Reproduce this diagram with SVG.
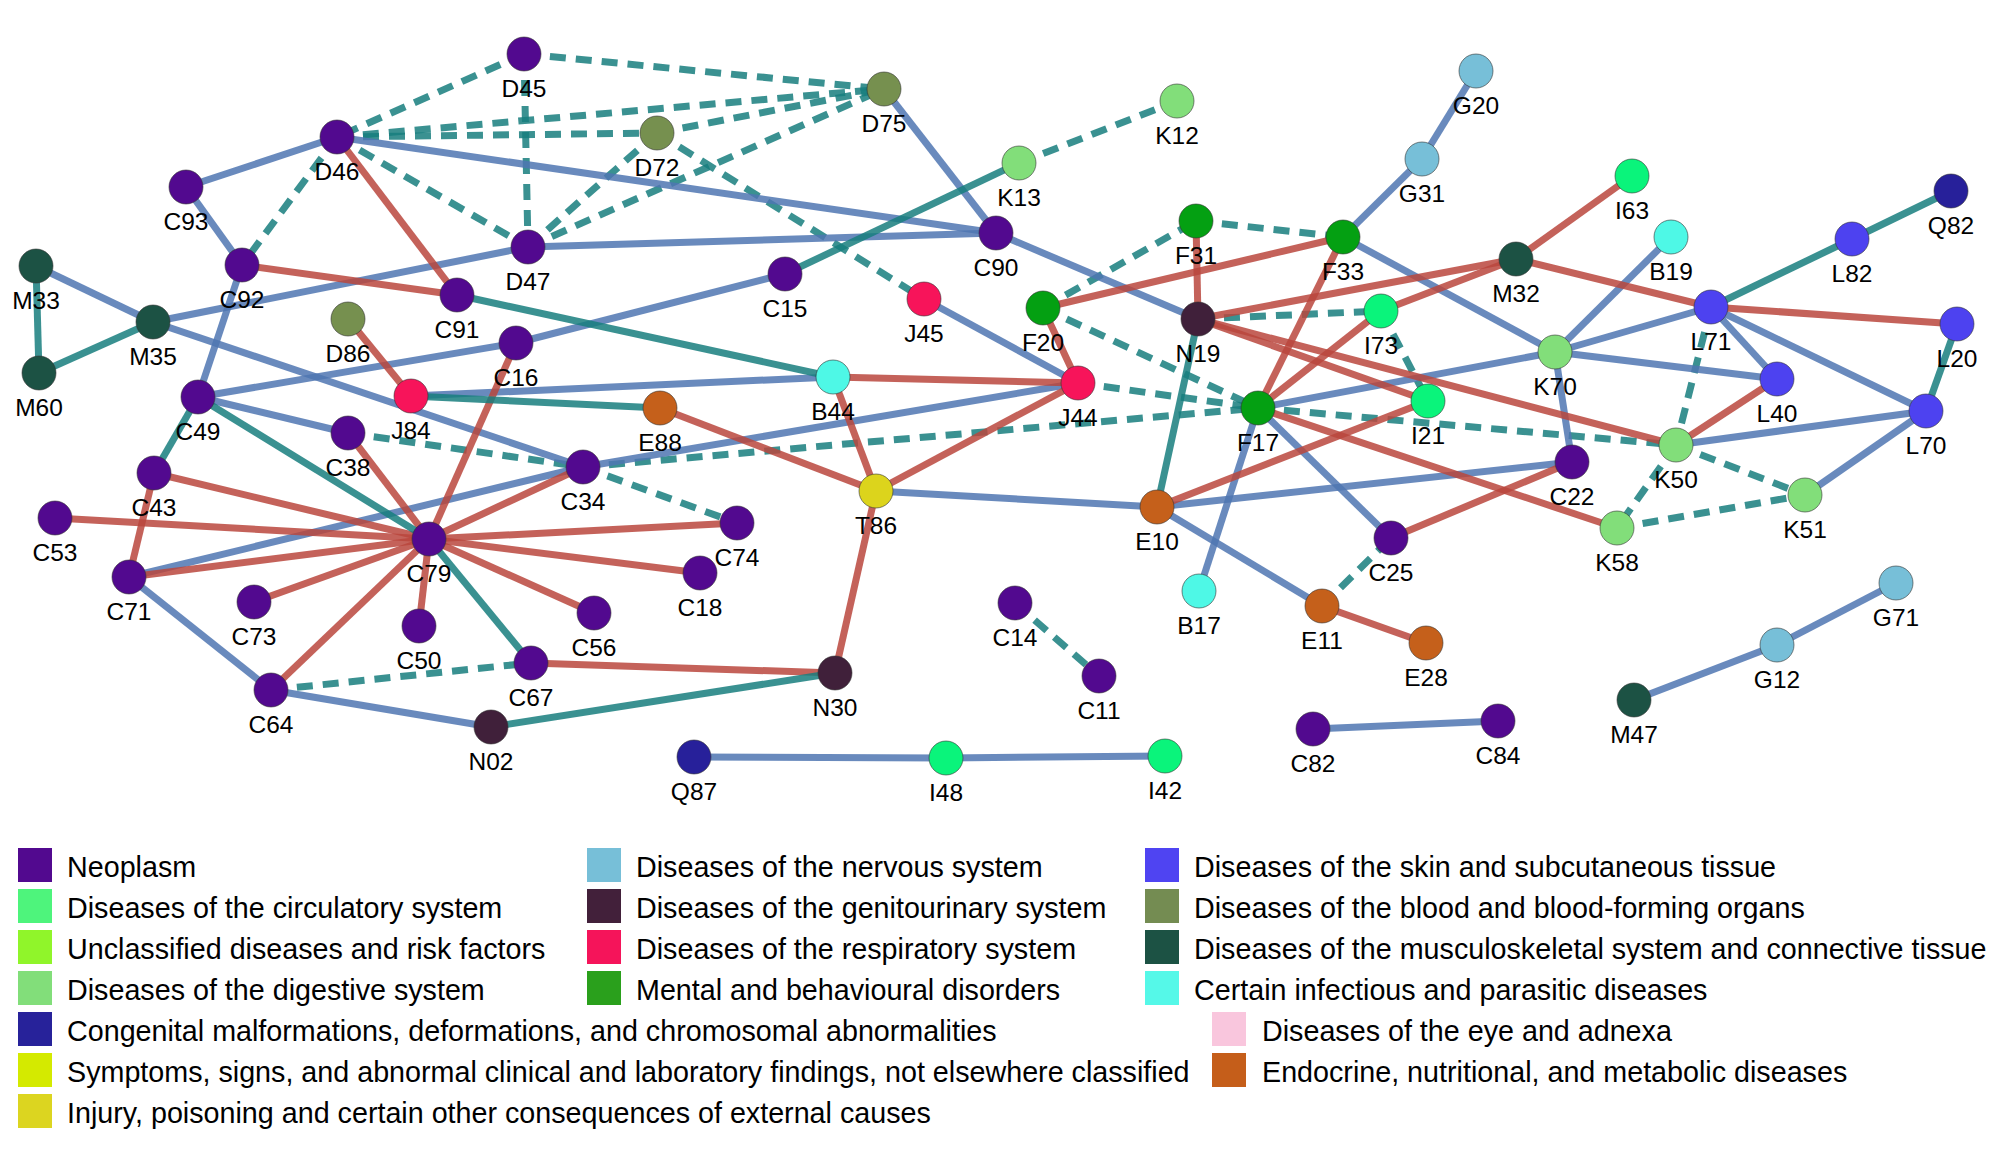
<svg xmlns="http://www.w3.org/2000/svg" width="2000" height="1161" viewBox="0 0 2000 1161">
<style>
.e{stroke-width:7;stroke-opacity:0.85;fill:none}
.b{stroke:#4f76b2}
.r{stroke:#ba473d}
.t{stroke:#187e7e}
.d{stroke:#187e7e;stroke-dasharray:16 10}
circle{stroke:#333;stroke-width:1;stroke-opacity:0.6}
text{font-family:"Liberation Sans",Arial,sans-serif;fill:#000}
.lb{font-size:24.5px;text-anchor:middle}
.lg{font-size:28.7px}
.n{fill:#52098f}.bl{fill:#76904f}.dg{fill:#82de7a}.nv{fill:#77bfd8}.ci{fill:#0af47b}
.cg{fill:#27209a}.mt{fill:#04a012}.inf{fill:#4ef8e6}.sk{fill:#4d42f0}.ms{fill:#1c5244}
.rs{fill:#f7145a}.gu{fill:#40203a}.en{fill:#c5601b}.ij{fill:#dcd41c}
</style>
<rect width="2000" height="1161" fill="#fff"/>
<g id="connectors">
<line class="e d" x1="524" y1="54" x2="884" y2="89"/>
<line class="e d" x1="524" y1="54" x2="337" y2="137"/>
<line class="e d" x1="524" y1="54" x2="528" y2="247"/>
<line class="e d" x1="337" y1="137" x2="657" y2="133"/>
<line class="e d" x1="337" y1="137" x2="884" y2="89"/>
<line class="e d" x1="657" y1="133" x2="884" y2="89"/>
<line class="e d" x1="528" y1="247" x2="884" y2="89"/>
<line class="e d" x1="337" y1="137" x2="528" y2="247"/>
<line class="e d" x1="528" y1="247" x2="657" y2="133"/>
<line class="e d" x1="337" y1="137" x2="242" y2="265"/>
<line class="e d" x1="657" y1="133" x2="924" y2="299"/>
<line class="e d" x1="1019" y1="163" x2="1177" y2="101"/>
<line class="e d" x1="1043" y1="308" x2="1196" y2="221"/>
<line class="e d" x1="1196" y1="221" x2="1343" y2="237"/>
<line class="e d" x1="1043" y1="308" x2="1258" y2="408"/>
<line class="e d" x1="1198" y1="319" x2="1381" y2="311"/>
<line class="e d" x1="1381" y1="311" x2="1428" y2="401"/>
<line class="e d" x1="1078" y1="383" x2="1258" y2="408"/>
<line class="e d" x1="583" y1="467" x2="1258" y2="408"/>
<line class="e d" x1="1258" y1="408" x2="1676" y2="445"/>
<line class="e d" x1="348" y1="433" x2="583" y2="467"/>
<line class="e d" x1="583" y1="467" x2="737" y2="523"/>
<line class="e d" x1="271" y1="690" x2="531" y2="663"/>
<line class="e d" x1="1015" y1="603" x2="1099" y2="676"/>
<line class="e d" x1="1322" y1="606" x2="1391" y2="538"/>
<line class="e d" x1="1711" y1="307" x2="1676" y2="445"/>
<line class="e d" x1="1676" y1="445" x2="1805" y2="495"/>
<line class="e d" x1="1676" y1="445" x2="1617" y2="528"/>
<line class="e d" x1="1617" y1="528" x2="1805" y2="495"/>
<line class="e b" x1="337" y1="137" x2="186" y2="187"/>
<line class="e b" x1="186" y1="187" x2="242" y2="265"/>
<line class="e b" x1="337" y1="137" x2="996" y2="233"/>
<line class="e b" x1="242" y1="265" x2="198" y2="397"/>
<line class="e b" x1="36" y1="266" x2="153" y2="322"/>
<line class="e b" x1="153" y1="322" x2="528" y2="247"/>
<line class="e b" x1="528" y1="247" x2="996" y2="233"/>
<line class="e b" x1="153" y1="322" x2="583" y2="467"/>
<line class="e b" x1="198" y1="397" x2="516" y2="343"/>
<line class="e b" x1="516" y1="343" x2="785" y2="274"/>
<line class="e b" x1="884" y1="89" x2="996" y2="233"/>
<line class="e b" x1="996" y1="233" x2="1198" y2="319"/>
<line class="e b" x1="924" y1="299" x2="1078" y2="383"/>
<line class="e b" x1="411" y1="396" x2="833" y2="377"/>
<line class="e b" x1="198" y1="397" x2="348" y2="433"/>
<line class="e b" x1="129" y1="577" x2="583" y2="467"/>
<line class="e b" x1="583" y1="467" x2="1078" y2="383"/>
<line class="e b" x1="876" y1="491" x2="1157" y2="507"/>
<line class="e b" x1="1157" y1="507" x2="1572" y2="462"/>
<line class="e b" x1="1157" y1="507" x2="1322" y2="606"/>
<line class="e b" x1="1258" y1="408" x2="1391" y2="538"/>
<line class="e b" x1="1258" y1="408" x2="1199" y2="591"/>
<line class="e b" x1="1258" y1="408" x2="1555" y2="352"/>
<line class="e b" x1="1343" y1="237" x2="1422" y2="159"/>
<line class="e b" x1="1422" y1="159" x2="1476" y2="71"/>
<line class="e b" x1="1343" y1="237" x2="1555" y2="352"/>
<line class="e b" x1="1555" y1="352" x2="1671" y2="237"/>
<line class="e b" x1="1555" y1="352" x2="1711" y2="307"/>
<line class="e b" x1="1555" y1="352" x2="1777" y2="379"/>
<line class="e b" x1="1555" y1="352" x2="1572" y2="462"/>
<line class="e b" x1="1711" y1="307" x2="1777" y2="379"/>
<line class="e b" x1="1711" y1="307" x2="1926" y2="411"/>
<line class="e b" x1="1926" y1="411" x2="1676" y2="445"/>
<line class="e b" x1="1926" y1="411" x2="1805" y2="495"/>
<line class="e b" x1="129" y1="577" x2="271" y2="690"/>
<line class="e b" x1="271" y1="690" x2="491" y2="727"/>
<line class="e b" x1="694" y1="757" x2="946" y2="758"/>
<line class="e b" x1="946" y1="758" x2="1165" y2="756"/>
<line class="e b" x1="1313" y1="729" x2="1498" y2="721"/>
<line class="e b" x1="1634" y1="700" x2="1777" y2="645"/>
<line class="e b" x1="1777" y1="645" x2="1896" y2="583"/>
<line class="e r" x1="337" y1="137" x2="457" y2="295"/>
<line class="e r" x1="242" y1="265" x2="457" y2="295"/>
<line class="e r" x1="411" y1="396" x2="348" y2="319"/>
<line class="e r" x1="1043" y1="308" x2="1078" y2="383"/>
<line class="e r" x1="1078" y1="383" x2="833" y2="377"/>
<line class="e r" x1="833" y1="377" x2="876" y2="491"/>
<line class="e r" x1="1078" y1="383" x2="876" y2="491"/>
<line class="e r" x1="660" y1="408" x2="876" y2="491"/>
<line class="e r" x1="876" y1="491" x2="835" y2="673"/>
<line class="e r" x1="531" y1="663" x2="835" y2="673"/>
<line class="e r" x1="1043" y1="308" x2="1343" y2="237"/>
<line class="e r" x1="1198" y1="319" x2="1196" y2="221"/>
<line class="e r" x1="1198" y1="319" x2="1516" y2="259"/>
<line class="e r" x1="1198" y1="319" x2="1676" y2="445"/>
<line class="e r" x1="1198" y1="319" x2="1428" y2="401"/>
<line class="e r" x1="1258" y1="408" x2="1343" y2="237"/>
<line class="e r" x1="1258" y1="408" x2="1381" y2="311"/>
<line class="e r" x1="1381" y1="311" x2="1516" y2="259"/>
<line class="e r" x1="1516" y1="259" x2="1632" y2="176"/>
<line class="e r" x1="1516" y1="259" x2="1711" y2="307"/>
<line class="e r" x1="1711" y1="307" x2="1957" y2="324"/>
<line class="e r" x1="1157" y1="507" x2="1428" y2="401"/>
<line class="e r" x1="1258" y1="408" x2="1617" y2="528"/>
<line class="e r" x1="1391" y1="538" x2="1572" y2="462"/>
<line class="e r" x1="1322" y1="606" x2="1426" y2="643"/>
<line class="e r" x1="1777" y1="379" x2="1676" y2="445"/>
<line class="e r" x1="154" y1="473" x2="129" y2="577"/>
<line class="e r" x1="429" y1="539" x2="154" y2="473"/>
<line class="e r" x1="429" y1="539" x2="55" y2="518"/>
<line class="e r" x1="429" y1="539" x2="129" y2="577"/>
<line class="e r" x1="429" y1="539" x2="254" y2="602"/>
<line class="e r" x1="429" y1="539" x2="419" y2="626"/>
<line class="e r" x1="429" y1="539" x2="594" y2="613"/>
<line class="e r" x1="429" y1="539" x2="700" y2="573"/>
<line class="e r" x1="429" y1="539" x2="737" y2="523"/>
<line class="e r" x1="429" y1="539" x2="271" y2="690"/>
<line class="e r" x1="429" y1="539" x2="348" y2="433"/>
<line class="e r" x1="429" y1="539" x2="583" y2="467"/>
<line class="e r" x1="429" y1="539" x2="516" y2="343"/>
<line class="e t" x1="36" y1="266" x2="39" y2="373"/>
<line class="e t" x1="153" y1="322" x2="39" y2="373"/>
<line class="e t" x1="457" y1="295" x2="833" y2="377"/>
<line class="e t" x1="785" y1="274" x2="1019" y2="163"/>
<line class="e t" x1="411" y1="396" x2="660" y2="408"/>
<line class="e t" x1="198" y1="397" x2="154" y2="473"/>
<line class="e t" x1="198" y1="397" x2="429" y2="539"/>
<line class="e t" x1="429" y1="539" x2="531" y2="663"/>
<line class="e t" x1="491" y1="727" x2="835" y2="673"/>
<line class="e t" x1="1198" y1="319" x2="1157" y2="507"/>
<line class="e t" x1="1711" y1="307" x2="1852" y2="239"/>
<line class="e t" x1="1852" y1="239" x2="1951" y2="191"/>
<line class="e t" x1="1957" y1="324" x2="1926" y2="411"/>
</g>
<g id="nodes">
<g id="D45"><circle class="n" cx="524" cy="54" r="17"/><text class="lb" x="524" y="97">D45</text></g>
<g id="D75"><circle class="bl" cx="884" cy="89" r="17"/><text class="lb" x="884" y="132">D75</text></g>
<g id="K12"><circle class="dg" cx="1177" cy="101" r="17"/><text class="lb" x="1177" y="144">K12</text></g>
<g id="G20"><circle class="nv" cx="1476" cy="71" r="17"/><text class="lb" x="1476" y="114">G20</text></g>
<g id="D46"><circle class="n" cx="337" cy="137" r="17"/><text class="lb" x="337" y="180">D46</text></g>
<g id="D72"><circle class="bl" cx="657" cy="133" r="17"/><text class="lb" x="657" y="176">D72</text></g>
<g id="K13"><circle class="dg" cx="1019" cy="163" r="17"/><text class="lb" x="1019" y="206">K13</text></g>
<g id="G31"><circle class="nv" cx="1422" cy="159" r="17"/><text class="lb" x="1422" y="202">G31</text></g>
<g id="I63"><circle class="ci" cx="1632" cy="176" r="17"/><text class="lb" x="1632" y="219">I63</text></g>
<g id="Q82"><circle class="cg" cx="1951" cy="191" r="17"/><text class="lb" x="1951" y="234">Q82</text></g>
<g id="C93"><circle class="n" cx="186" cy="187" r="17"/><text class="lb" x="186" y="230">C93</text></g>
<g id="C90"><circle class="n" cx="996" cy="233" r="17"/><text class="lb" x="996" y="276">C90</text></g>
<g id="F31"><circle class="mt" cx="1196" cy="221" r="17"/><text class="lb" x="1196" y="264">F31</text></g>
<g id="F33"><circle class="mt" cx="1343" cy="237" r="17"/><text class="lb" x="1343" y="280">F33</text></g>
<g id="B19"><circle class="inf" cx="1671" cy="237" r="17"/><text class="lb" x="1671" y="280">B19</text></g>
<g id="L82"><circle class="sk" cx="1852" cy="239" r="17"/><text class="lb" x="1852" y="282">L82</text></g>
<g id="D47"><circle class="n" cx="528" cy="247" r="17"/><text class="lb" x="528" y="290">D47</text></g>
<g id="C92"><circle class="n" cx="242" cy="265" r="17"/><text class="lb" x="242" y="308">C92</text></g>
<g id="M33"><circle class="ms" cx="36" cy="266" r="17"/><text class="lb" x="36" y="309">M33</text></g>
<g id="C15"><circle class="n" cx="785" cy="274" r="17"/><text class="lb" x="785" y="317">C15</text></g>
<g id="C91"><circle class="n" cx="457" cy="295" r="17"/><text class="lb" x="457" y="338">C91</text></g>
<g id="J45"><circle class="rs" cx="924" cy="299" r="17"/><text class="lb" x="924" y="342">J45</text></g>
<g id="F20"><circle class="mt" cx="1043" cy="308" r="17"/><text class="lb" x="1043" y="351">F20</text></g>
<g id="M32"><circle class="ms" cx="1516" cy="259" r="17"/><text class="lb" x="1516" y="302">M32</text></g>
<g id="N19"><circle class="gu" cx="1198" cy="319" r="17"/><text class="lb" x="1198" y="362">N19</text></g>
<g id="I73"><circle class="ci" cx="1381" cy="311" r="17"/><text class="lb" x="1381" y="354">I73</text></g>
<g id="L71"><circle class="sk" cx="1711" cy="307" r="17"/><text class="lb" x="1711" y="350">L71</text></g>
<g id="L20"><circle class="sk" cx="1957" cy="324" r="17"/><text class="lb" x="1957" y="367">L20</text></g>
<g id="M35"><circle class="ms" cx="153" cy="322" r="17"/><text class="lb" x="153" y="365">M35</text></g>
<g id="D86"><circle class="bl" cx="348" cy="319" r="17"/><text class="lb" x="348" y="362">D86</text></g>
<g id="C16"><circle class="n" cx="516" cy="343" r="17"/><text class="lb" x="516" y="386">C16</text></g>
<g id="K70"><circle class="dg" cx="1555" cy="352" r="17"/><text class="lb" x="1555" y="395">K70</text></g>
<g id="M60"><circle class="ms" cx="39" cy="373" r="17"/><text class="lb" x="39" y="416">M60</text></g>
<g id="J84"><circle class="rs" cx="411" cy="396" r="17"/><text class="lb" x="411" y="439">J84</text></g>
<g id="C49"><circle class="n" cx="198" cy="397" r="17"/><text class="lb" x="198" y="440">C49</text></g>
<g id="B44"><circle class="inf" cx="833" cy="377" r="17"/><text class="lb" x="833" y="420">B44</text></g>
<g id="J44"><circle class="rs" cx="1078" cy="383" r="17"/><text class="lb" x="1078" y="426">J44</text></g>
<g id="F17"><circle class="mt" cx="1258" cy="408" r="17"/><text class="lb" x="1258" y="451">F17</text></g>
<g id="I21"><circle class="ci" cx="1428" cy="401" r="17"/><text class="lb" x="1428" y="444">I21</text></g>
<g id="L40"><circle class="sk" cx="1777" cy="379" r="17"/><text class="lb" x="1777" y="422">L40</text></g>
<g id="L70"><circle class="sk" cx="1926" cy="411" r="17"/><text class="lb" x="1926" y="454">L70</text></g>
<g id="E88"><circle class="en" cx="660" cy="408" r="17"/><text class="lb" x="660" y="451">E88</text></g>
<g id="C38"><circle class="n" cx="348" cy="433" r="17"/><text class="lb" x="348" y="476">C38</text></g>
<g id="C34"><circle class="n" cx="583" cy="467" r="17"/><text class="lb" x="583" y="510">C34</text></g>
<g id="C43"><circle class="n" cx="154" cy="473" r="17"/><text class="lb" x="154" y="516">C43</text></g>
<g id="K50"><circle class="dg" cx="1676" cy="445" r="17"/><text class="lb" x="1676" y="488">K50</text></g>
<g id="C22"><circle class="n" cx="1572" cy="462" r="17"/><text class="lb" x="1572" y="505">C22</text></g>
<g id="T86"><circle class="ij" cx="876" cy="491" r="17"/><text class="lb" x="876" y="534">T86</text></g>
<g id="K51"><circle class="dg" cx="1805" cy="495" r="17"/><text class="lb" x="1805" y="538">K51</text></g>
<g id="E10"><circle class="en" cx="1157" cy="507" r="17"/><text class="lb" x="1157" y="550">E10</text></g>
<g id="C53"><circle class="n" cx="55" cy="518" r="17"/><text class="lb" x="55" y="561">C53</text></g>
<g id="C74"><circle class="n" cx="737" cy="523" r="17"/><text class="lb" x="737" y="566">C74</text></g>
<g id="C79"><circle class="n" cx="429" cy="539" r="17"/><text class="lb" x="429" y="582">C79</text></g>
<g id="K58"><circle class="dg" cx="1617" cy="528" r="17"/><text class="lb" x="1617" y="571">K58</text></g>
<g id="C25"><circle class="n" cx="1391" cy="538" r="17"/><text class="lb" x="1391" y="581">C25</text></g>
<g id="C18"><circle class="n" cx="700" cy="573" r="17"/><text class="lb" x="700" y="616">C18</text></g>
<g id="C71"><circle class="n" cx="129" cy="577" r="17"/><text class="lb" x="129" y="620">C71</text></g>
<g id="B17"><circle class="inf" cx="1199" cy="591" r="17"/><text class="lb" x="1199" y="634">B17</text></g>
<g id="C73"><circle class="n" cx="254" cy="602" r="17"/><text class="lb" x="254" y="645">C73</text></g>
<g id="C14"><circle class="n" cx="1015" cy="603" r="17"/><text class="lb" x="1015" y="646">C14</text></g>
<g id="E11"><circle class="en" cx="1322" cy="606" r="17"/><text class="lb" x="1322" y="649">E11</text></g>
<g id="C56"><circle class="n" cx="594" cy="613" r="17"/><text class="lb" x="594" y="656">C56</text></g>
<g id="C50"><circle class="n" cx="419" cy="626" r="17"/><text class="lb" x="419" y="669">C50</text></g>
<g id="G71"><circle class="nv" cx="1896" cy="583" r="17"/><text class="lb" x="1896" y="626">G71</text></g>
<g id="E28"><circle class="en" cx="1426" cy="643" r="17"/><text class="lb" x="1426" y="686">E28</text></g>
<g id="G12"><circle class="nv" cx="1777" cy="645" r="17"/><text class="lb" x="1777" y="688">G12</text></g>
<g id="C67"><circle class="n" cx="531" cy="663" r="17"/><text class="lb" x="531" y="706">C67</text></g>
<g id="N30"><circle class="gu" cx="835" cy="673" r="17"/><text class="lb" x="835" y="716">N30</text></g>
<g id="C11"><circle class="n" cx="1099" cy="676" r="17"/><text class="lb" x="1099" y="719">C11</text></g>
<g id="C64"><circle class="n" cx="271" cy="690" r="17"/><text class="lb" x="271" y="733">C64</text></g>
<g id="M47"><circle class="ms" cx="1634" cy="700" r="17"/><text class="lb" x="1634" y="743">M47</text></g>
<g id="C84"><circle class="n" cx="1498" cy="721" r="17"/><text class="lb" x="1498" y="764">C84</text></g>
<g id="N02"><circle class="gu" cx="491" cy="727" r="17"/><text class="lb" x="491" y="770">N02</text></g>
<g id="C82"><circle class="n" cx="1313" cy="729" r="17"/><text class="lb" x="1313" y="772">C82</text></g>
<g id="Q87"><circle class="cg" cx="694" cy="757" r="17"/><text class="lb" x="694" y="800">Q87</text></g>
<g id="I48"><circle class="ci" cx="946" cy="758" r="17"/><text class="lb" x="946" y="801">I48</text></g>
<g id="I42"><circle class="ci" cx="1165" cy="756" r="17"/><text class="lb" x="1165" y="799">I42</text></g>
</g>
<g id="legend">
<rect x="18" y="848" width="34" height="34" fill="#52098f"/><text class="lg" x="67" y="877">Neoplasm</text>
<rect x="18" y="889" width="34" height="34" fill="#4ef47c"/><text class="lg" x="67" y="918">Diseases of the circulatory system</text>
<rect x="18" y="930" width="34" height="34" fill="#90f52a"/><text class="lg" x="67" y="959">Unclassified diseases and risk factors</text>
<rect x="18" y="971" width="34" height="34" fill="#82de7a"/><text class="lg" x="67" y="1000">Diseases of the digestive system</text>
<rect x="18" y="1012" width="34" height="34" fill="#27229a"/><text class="lg" x="67" y="1041">Congenital malformations, deformations, and chromosomal abnormalities</text>
<rect x="18" y="1053" width="34" height="34" fill="#d4ea00"/><text class="lg" x="67" y="1082">Symptoms, signs, and abnormal clinical and laboratory findings, not elsewhere classified</text>
<rect x="18" y="1094" width="34" height="34" fill="#dcd520"/><text class="lg" x="67" y="1123">Injury, poisoning and certain other consequences of external causes</text>
<rect x="587" y="848" width="34" height="34" fill="#77bfd8"/><text class="lg" x="636" y="877">Diseases of the nervous system</text>
<rect x="587" y="889" width="34" height="34" fill="#42203a"/><text class="lg" x="636" y="918">Diseases of the genitourinary system</text>
<rect x="587" y="930" width="34" height="34" fill="#f5145a"/><text class="lg" x="636" y="959">Diseases of the respiratory system</text>
<rect x="587" y="971" width="34" height="34" fill="#2aa01c"/><text class="lg" x="636" y="1000">Mental and behavioural disorders</text>
<rect x="1145" y="848" width="34" height="34" fill="#4f44f2"/><text class="lg" x="1194" y="877">Diseases of the skin and subcutaneous tissue</text>
<rect x="1145" y="889" width="34" height="34" fill="#748c52"/><text class="lg" x="1194" y="918">Diseases of the blood and blood-forming organs</text>
<rect x="1145" y="930" width="34" height="34" fill="#1c5244"/><text class="lg" x="1194" y="959">Diseases of the musculoskeletal system and connective tissue</text>
<rect x="1145" y="971" width="34" height="34" fill="#55f8e8"/><text class="lg" x="1194" y="1000">Certain infectious and parasitic diseases</text>
<rect x="1212" y="1012" width="34" height="34" fill="#f9c6dd"/><text class="lg" x="1262" y="1041">Diseases of the eye and adnexa</text>
<rect x="1212" y="1053" width="34" height="34" fill="#c55e1a"/><text class="lg" x="1262" y="1082">Endocrine, nutritional, and metabolic diseases</text>
</g>
</svg>
